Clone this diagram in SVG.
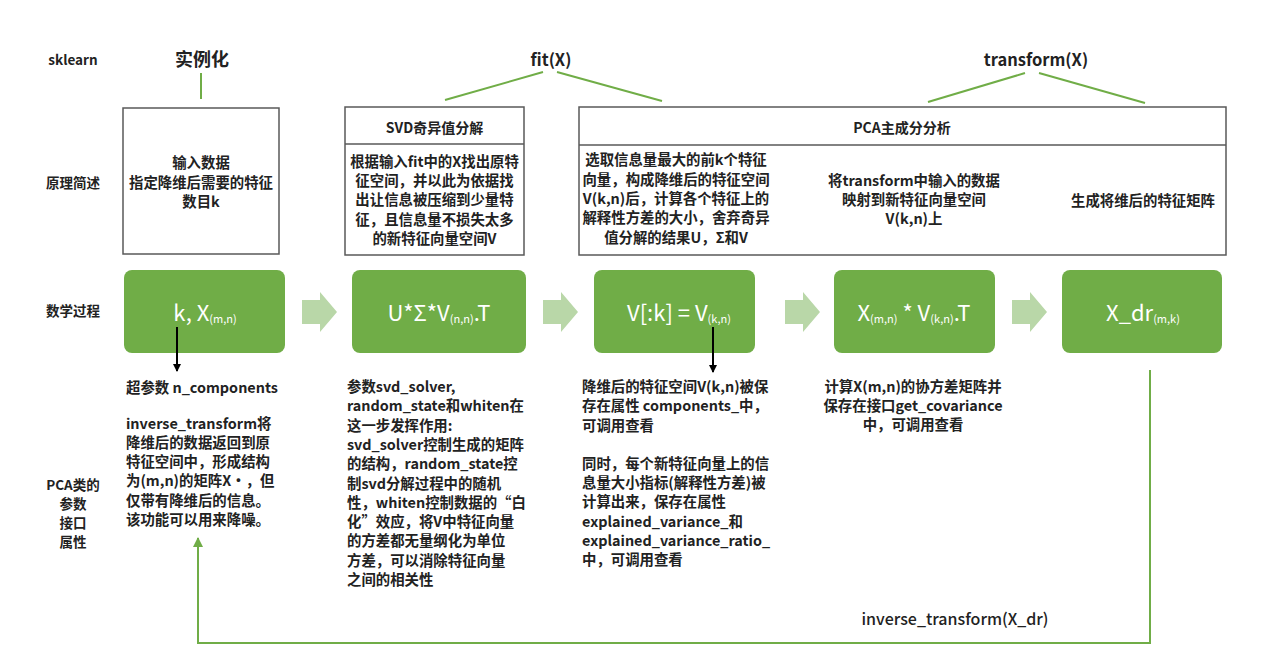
<svg xmlns="http://www.w3.org/2000/svg" width="1271" height="667" viewBox="0 0 1271 667">
<defs>
<style>
text{font-family:"Noto Sans CJK SC","Liberation Sans",sans-serif;fill:#222}
.lbl{font-size:13.5px;font-weight:bold;text-anchor:middle}
.t{font-size:14.4px;font-weight:bold}
.c{text-anchor:middle}
.hd{font-size:14px;font-weight:bold;text-anchor:middle}
.top{font-size:16.5px;font-weight:bold;text-anchor:middle}
.box{fill:#fff;stroke:#595959;stroke-width:1.5}
.gbox{fill:#70AD47}
.gt{font-size:22px;fill:#fff;text-anchor:middle}
.gt tspan.s{font-size:11px}
.barrow{fill:#B9D7A8}
.gl{stroke:#70AD47;stroke-width:2;fill:none}
.bl{stroke:#000;stroke-width:2;fill:none}
</style>
<marker id="ab" markerWidth="8" markerHeight="8" refX="7" refY="4" orient="auto" markerUnits="userSpaceOnUse"><path d="M0,0 L8,4 L0,8 z" fill="#000"/></marker>
<marker id="ag" markerWidth="10" markerHeight="10" refX="9" refY="5" orient="auto" markerUnits="userSpaceOnUse"><path d="M0,0 L10,5 L0,10 z" fill="#70AD47"/></marker>
</defs>
<rect width="1271" height="667" fill="#fff"/>

<g id="row-labels">
<text class="lbl" x="73" y="65">sklearn</text>
<text class="lbl" x="73" y="188">原理简述</text>
<text class="lbl" x="73" y="316">数学过程</text>
<text class="lbl" x="73" y="490">PCA类的</text>
<text class="lbl" x="73" y="509">参数</text>
<text class="lbl" x="73" y="528">接口</text>
<text class="lbl" x="73" y="547">属性</text>
</g>

<g id="sk-instantiate"><text x="202" y="66" style="font-size:18px;font-weight:bold;text-anchor:middle">实例化</text></g>
<g id="sk-fit"><text class="top" x="551" y="66">fit(X)</text></g>
<g id="sk-transform"><text class="top" x="1036" y="66">transform(X)</text></g>

<g id="desc-input">
<rect class="box" x="123" y="108" width="156" height="146"/>
<text class="t c" x="201" y="168">输入数据</text>
<text class="t c" x="201" y="188">指定降维后需要的特征</text>
<text class="t c" x="201" y="207">数目k</text>
</g>

<g id="desc-svd">
<rect class="box" x="345" y="107" width="179" height="148"/>
<line x1="345" y1="144" x2="524" y2="144" stroke="#595959" stroke-width="1.5"/>
<text class="hd" x="434.5" y="133">SVD奇异值分解</text>
<text class="t c" x="434.5" y="167">根据输入fit中的X找出原特</text>
<text class="t c" x="434.5" y="186">征空间，并以此为依据找</text>
<text class="t c" x="434.5" y="205">出让信息被压缩到少量特</text>
<text class="t c" x="434.5" y="225">征，且信息量不损失太多</text>
<text class="t c" x="434.5" y="244">的新特征向量空间V</text>
</g>

<g id="desc-pca">
<rect class="box" x="579" y="107" width="647" height="148"/>
<line x1="579" y1="145" x2="1226" y2="145" stroke="#595959" stroke-width="1.5"/>
<text class="hd" x="902" y="133">PCA主成分分析</text>
<text class="t c" x="676" y="165">选取信息量最大的前k个特征</text>
<text class="t c" x="676" y="185">向量，构成降维后的特征空间</text>
<text class="t c" x="676" y="204">V(k,n)后，计算各个特征上的</text>
<text class="t c" x="676" y="223">解释性方差的大小，舍弃奇异</text>
<text class="t c" x="676" y="243">值分解的结果U，Σ和V</text>
<text class="t c" x="914" y="186">将transform中输入的数据</text>
<text class="t c" x="914" y="205">映射到新特征向量空间</text>
<text class="t c" x="914" y="224">V(k,n)上</text>
<text class="t c" x="1143" y="206">生成将维后的特征矩阵</text>
</g>

<g id="math-1">
<rect class="gbox" x="124" y="270" width="161" height="83" rx="8"/>
<text class="gt" x="205" y="321">k, X<tspan class="s" dy="2">(m,n)</tspan></text>
</g>
<g id="math-2">
<rect class="gbox" x="352" y="270" width="174" height="83" rx="8"/>
<text class="gt" x="439" y="321">U*Σ*V<tspan class="s" dy="2">(n,n)</tspan><tspan dy="-2">.T</tspan></text>
</g>
<g id="math-3">
<rect class="gbox" x="594" y="270" width="161" height="83" rx="8"/>
<text class="gt" x="679" y="321">V[:k] = V<tspan class="s" dy="2">(k,n)</tspan></text>
</g>
<g id="math-4">
<rect class="gbox" x="834" y="270" width="161" height="83" rx="8"/>
<text class="gt" x="914" y="321">X<tspan class="s" dy="2">(m,n)</tspan><tspan dy="-2"> * V</tspan><tspan class="s" dy="2">(k,n)</tspan><tspan dy="-2">.T</tspan></text>
</g>
<g id="math-5">
<rect class="gbox" x="1062" y="270" width="160" height="83" rx="8"/>
<text class="gt" x="1143" y="321">X_dr<tspan class="s" dy="2">(m,k)</tspan></text>
</g>

<g id="attr-1">
<text class="t" x="126" y="393">超参数 n_components</text>
<text class="t" x="126" y="429">inverse_transform将</text>
<text class="t" x="126" y="448">降维后的数据返回到原</text>
<text class="t" x="126" y="467">特征空间中，形成结构</text>
<text class="t" x="126" y="486">为(m,n)的矩阵X•，但</text>
<text class="t" x="126" y="506">仅带有降维后的信息。</text>
<text class="t" x="126" y="525">该功能可以用来降噪。</text>
</g>
<g id="attr-2">
<text class="t" x="347" y="392">参数svd_solver,</text>
<text class="t" x="347" y="411">random_state和whiten在</text>
<text class="t" x="347" y="431">这一步发挥作用:</text>
<text class="t" x="347" y="450">svd_solver控制生成的矩阵</text>
<text class="t" x="347" y="469">的结构，random_state控</text>
<text class="t" x="347" y="489">制svd分解过程中的随机</text>
<text class="t" x="347" y="508">性，whiten控制数据的“白</text>
<text class="t" x="347" y="527">化”效应，将V中特征向量</text>
<text class="t" x="347" y="546">的方差都无量纲化为单位</text>
<text class="t" x="347" y="566">方差，可以消除特征向量</text>
<text class="t" x="347" y="585">之间的相关性</text>
</g>
<g id="attr-3">
<text class="t" x="582" y="392">降维后的特征空间V(k,n)被保</text>
<text class="t" x="582" y="411">存在属性 components_中，</text>
<text class="t" x="582" y="431">可调用查看</text>
<text class="t" x="582" y="469">同时，每个新特征向量上的信</text>
<text class="t" x="582" y="488">息量大小指标(解释性方差)被</text>
<text class="t" x="582" y="507">计算出来，保存在属性</text>
<text class="t" x="582" y="527">explained_variance_和</text>
<text class="t" x="582" y="546">explained_variance_ratio_</text>
<text class="t" x="582" y="565">中，可调用查看</text>
</g>
<g id="attr-4">
<text class="t c" x="913" y="392">计算X(m,n)的协方差矩阵并</text>
<text class="t c" x="913" y="411">保存在接口get_covariance</text>
<text class="t c" x="913" y="430">中，可调用查看</text>
</g>

<g id="connectors">
<line class="gl" x1="201" y1="73" x2="201" y2="99"/>
<line class="gl" x1="543" y1="72" x2="445" y2="100"/>
<line class="gl" x1="557" y1="72" x2="662" y2="101"/>
<line class="gl" x1="1025" y1="73" x2="928" y2="102"/>
<line class="gl" x1="1039" y1="73" x2="1145" y2="103"/>
<path class="barrow" d="M302,300 H320 V292 L337,312 L320,332 V324 H302 Z"/>
<path class="barrow" d="M543,300 H561 V292 L578,312 L561,332 V324 H543 Z"/>
<path class="barrow" d="M785,300 H803 V292 L820,312 L803,332 V324 H785 Z"/>
<path class="barrow" d="M1012,300 H1030 V292 L1047,312 L1030,332 V324 H1012 Z"/>
<line class="bl" x1="177" y1="327" x2="177" y2="371" marker-end="url(#ab)"/>
<line class="bl" x1="713" y1="327" x2="713" y2="372" marker-end="url(#ab)"/>
<polyline class="gl" points="1150,370 1150,643 198,643 198,538" marker-end="url(#ag)"/>
<text x="955" y="625" style="font-size:16px;font-weight:500;text-anchor:middle">inverse_transform(X_dr)</text>
</g>
</svg>
